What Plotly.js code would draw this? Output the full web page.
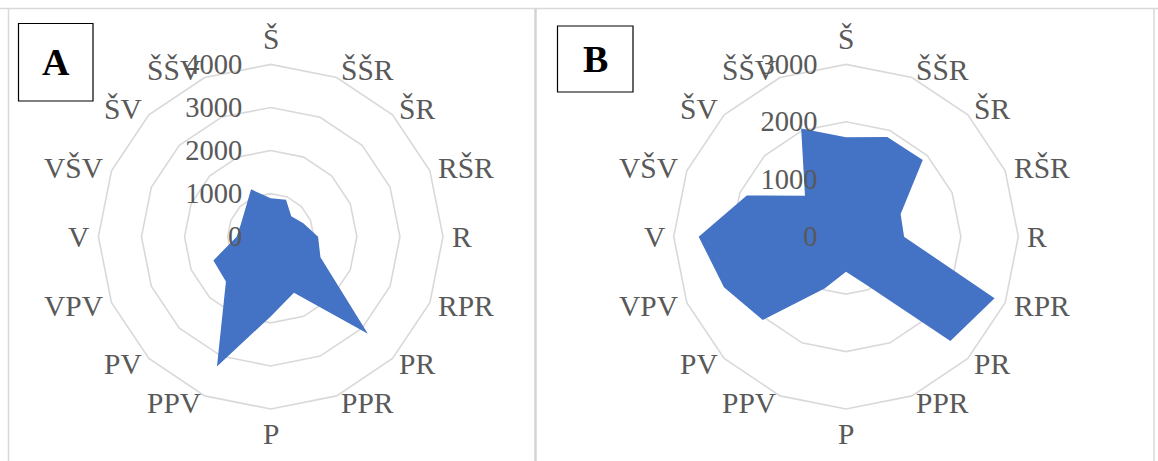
<!DOCTYPE html>
<html>
<head>
<meta charset="utf-8">
<script src="https://cdn.plot.ly/plotly-3.0.1.min.js"></script>
<style>
  html, body { margin: 0; padding: 0; background: #ffffff; }
  #chart { width: 1158px; height: 461px; }
</style>
</head>
<body>
<div id="chart"></div>
<script>
const directions = ["Š", "ŠŠR", "ŠR", "RŠR", "R", "RPR", "PR", "PPR", "P", "PPV", "PV", "VPV", "V", "VŠV", "ŠV", "ŠŠV"];
const valuesA = [890, 930, 675, 820, 1100, 1250, 3190, 1410, 1850, 3260, 1470, 1440, 790, 750, 850, 1190];
const valuesB = [1730, 1880, 1890, 1030, 1010, 2800, 2570, 900, 610, 975, 2050, 2300, 2565, 1870, 1010, 2040];
const radialTicksA = [0, 1000, 2000, 3000, 4000];
const radialTicksB = [0, 1000, 2000, 3000];
const panelLabels = ["A", "B"];

const W = 1158, H = 461;
const CY = 236.7, R = 172.3;
const centersX = [270.7, 846];
const fontFam = "Liberation Serif";
const gridCol = "#d9d9d9";
const textCol = "#595959";

function closeLoop(arr) { return arr.concat([arr[0]]); }

function trace(vals, sub) {
  return {
    type: "scatterpolar",
    r: closeLoop(vals),
    theta: closeLoop(directions),
    fill: "toself",
    fillcolor: "#4472c4",
    line: { width: 0, color: "#4472c4" },
    mode: "lines",
    hoverinfo: "skip",
    subplot: sub
  };
}

function domainFor(cx, cy, r) {
  return {
    x: [(cx - r) / W, (cx + r) / W],
    y: [(H - cy - r) / H, (H - cy + r) / H]
  };
}

function polar(cx, ticks) {
  return {
    domain: domainFor(cx, CY, R),
    bgcolor: "rgba(0,0,0,0)",
    gridshape: "linear",
    angularaxis: {
      direction: "clockwise",
      rotation: 90,
      showgrid: false,
      showline: true,
      linecolor: gridCol,
      linewidth: 1.6,
      ticks: "",
      showticklabels: false
    },
    radialaxis: {
      range: [0, ticks[ticks.length - 1]],
      tickvals: ticks,
      angle: 90,
      side: "counterclockwise",
      showline: false,
      showgrid: true,
      gridcolor: gridCol,
      gridwidth: 1.6,
      ticks: "outside",
      ticklen: 18,
      tickcolor: "rgba(0,0,0,0)",
      tickangle: 90,
      tickfont: { family: fontFam, size: 28.5, color: textCol }
    }
  };
}

const data = [trace(valuesA, "polar"), trace(valuesB, "polar2")];

const shapes = [
  { type: "line", xref: "paper", yref: "paper", x0: 0, x1: 1, y0: (H - 8.5) / H, y1: (H - 8.5) / H, line: { color: "#d9d9d9", width: 1.5 } },
  { type: "line", xref: "paper", yref: "paper", x0: 8.5 / W, x1: 8.5 / W, y0: 0, y1: (H - 8) / H, line: { color: "#d9d9d9", width: 1.5 } },
  { type: "line", xref: "paper", yref: "paper", x0: 535.5 / W, x1: 535.5 / W, y0: 0, y1: (H - 8) / H, line: { color: "#d4d4d4", width: 2.5 } },
  { type: "line", xref: "paper", yref: "paper", x0: 1154 / W, x1: 1154 / W, y0: 0, y1: (H - 8) / H, line: { color: "#d9d9d9", width: 1.5 } },
  { type: "rect", xref: "paper", yref: "paper", x0: 18.5 / W, x1: 93 / W, y0: (H - 101) / H, y1: (H - 23.5) / H, line: { color: "#000000", width: 1.2 } },
  { type: "rect", xref: "paper", yref: "paper", x0: 557.5 / W, x1: 633 / W, y0: (H - 92) / H, y1: (H - 26) / H, line: { color: "#000000", width: 1.2 } }
];

const annotations = [
  { text: "<b>" + panelLabels[0] + "</b>", xref: "paper", yref: "paper", x: 55.7 / W, y: (H - 62) / H, showarrow: false, xanchor: "center", yanchor: "middle", font: { family: fontFam, size: 38, color: "#000000" } },
  { text: "<b>" + panelLabels[1] + "</b>", xref: "paper", yref: "paper", x: 595 / W, y: (H - 59) / H, showarrow: false, xanchor: "center", yanchor: "middle", font: { family: fontFam, size: 38, color: "#000000" } }
];

// Category labels placed Excel-style just outside each outer vertex
centersX.forEach(function (cx) {
  directions.forEach(function (name, i) {
    const th = i * 2 * Math.PI / directions.length;
    const s = Math.sin(th), c = Math.cos(th);
    const px = cx + (R + 8) * s;
    const py = CY - (R + 8) * c;
    let xa = "center", ya = "middle";
    if (Math.abs(s) < 1e-6) { ya = c > 0 ? "bottom" : "top"; }
    else { xa = s > 0 ? "left" : "right"; }
    annotations.push({
      text: name, xref: "paper", yref: "paper",
      x: px / W, y: (H - py) / H,
      xanchor: xa, yanchor: ya, showarrow: false, borderpad: 0,
      font: { family: fontFam, size: 29.5, color: textCol }
    });
  });
});

const layout = {
  width: W, height: H,
  margin: { l: 0, r: 0, t: 0, b: 0 },
  paper_bgcolor: "#ffffff",
  showlegend: false,
  polar: polar(centersX[0], radialTicksA),
  polar2: polar(centersX[1], radialTicksB),
  shapes: shapes,
  annotations: annotations
};

Plotly.newPlot("chart", data, layout, { displayModeBar: false, staticPlot: true });
</script>
</body>
</html>
